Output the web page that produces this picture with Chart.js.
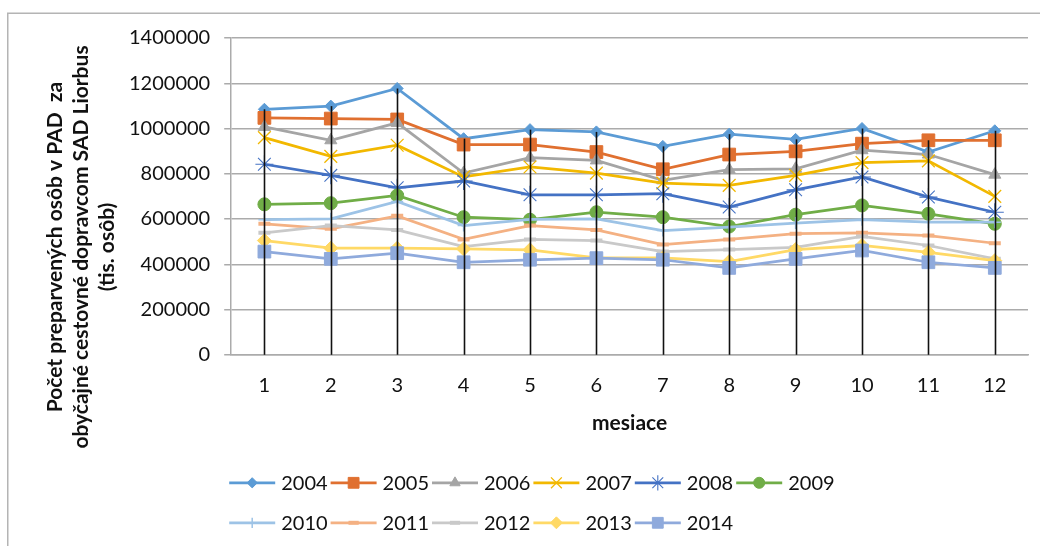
<!DOCTYPE html>
<html>
<head>
<meta charset="utf-8">
<script src="https://cdn.jsdelivr.net/npm/chart.js@4/dist/chart.umd.min.js"></script>
<style>
  html, body { margin: 0; padding: 0; background: #fff; }
  #wrap { position: relative; width: 1040px; height: 546px; }
</style>
</head>
<body>
<div id="wrap"><canvas id="c"></canvas></div>
<script>
// Months on the category axis
const months = ['1', '2', '3', '4', '5', '6', '7', '8', '9', '10', '11', '12'];

// Passengers carried per month, one array per year
const years = ['2004', '2005', '2006', '2007', '2008', '2009', '2010', '2011', '2012', '2013', '2014'];
const y2004 = [1085000, 1099000, 1177000, 955000, 995000, 985000, 921000, 975000, 952000, 1000000, 896000, 990000];
const y2005 = [1047000, 1044000, 1040000, 929000, 929000, 896000, 820000, 885000, 899000, 933000, 948000, 948000];
const y2006 = [1007000, 948000, 1025000, 803000, 871000, 859000, 771000, 818000, 822000, 904000, 885000, 796000];
const y2007 = [960000, 877000, 926000, 786000, 830000, 803000, 759000, 749000, 793000, 849000, 857000, 700000];
const y2008 = [842000, 793000, 738000, 768000, 707000, 707000, 712000, 653000, 729000, 786000, 697000, 630000];
const y2009 = [665000, 670000, 704000, 608000, 597000, 630000, 608000, 567000, 619000, 660000, 623000, 579000];
const y2010 = [597000, 601000, 678000, 571000, 598000, 601000, 549000, 564000, 582000, 597000, 586000, 586000];
const y2011 = [579000, 557000, 614000, 510000, 571000, 552000, 487000, 510000, 535000, 539000, 527000, 493000];
const y2012 = [539000, 571000, 552000, 478000, 510000, 505000, 456000, 465000, 475000, 523000, 483000, 424000];
const y2013 = [505000, 471000, 471000, 468000, 464000, 428000, 428000, 412000, 465000, 483000, 453000, 416000];
const y2014 = [456000, 424000, 449000, 409000, 420000, 427000, 420000, 384000, 424000, 461000, 409000, 384000];
const seriesValues = [y2004, y2005, y2006, y2007, y2008, y2009, y2010, y2011, y2012, y2013, y2014];

// Value axis ticks
const yTicks = [0, 200000, 400000, 600000, 800000, 1000000, 1200000, 1400000];

// Axis titles
const yTitleLines = ['Počet preparvených osôb v PAD  za', 'obyčajné cestovné dopravcom SAD Liorbus', '(tis. osôb)'];
const xTitle = 'mesiace';

// Look of each series: colour, marker shape, marker size, marker stroke
const seriesStyles = [
  { color: '#5B9BD5', marker: 'rectRot',  r: 6,   bw: 1 },
  { color: '#E07030', marker: 'rect',     r: 9,   bw: 1 },
  { color: '#A5A5A5', marker: 'triangle', r: 7,   bw: 1 },
  { color: '#F2B800', marker: 'crossRot', r: 9,   bw: 1.3 },
  { color: '#4472C4', marker: 'star',     r: 9,   bw: 1.1 },
  { color: '#70AD47', marker: 'circle',   r: 6.5, bw: 1 },
  { color: '#9DC3E6', marker: 'cross',    r: 6,   bw: 1.5 },
  { color: '#F4B183', marker: 'line',     r: 6,   bw: 4 },
  { color: '#C9C9C9', marker: 'line',     r: 6,   bw: 4 },
  { color: '#FFD966', marker: 'rectRot',  r: 7,   bw: 1 },
  { color: '#8FAADC', marker: 'rect',     r: 9,   bw: 1 }
];

const FONT = 'Lato, "Open Sans", sans-serif';
const TEXT = '#111';
const GRID = '#ababab';

const datasets = years.map((label, i) => {
  const s = seriesStyles[i];
  return {
    label,
    data: seriesValues[i],
    borderColor: s.color,
    backgroundColor: s.color,
    borderWidth: 2.75,
    tension: 0,
    pointStyle: s.marker,
    pointRadius: s.r,
    pointHoverRadius: s.r,
    pointBackgroundColor: s.color,
    pointBorderColor: s.color,
    pointBorderWidth: s.bw,
    order: years.length - i
  };
});

// Outer frame of the chart object
const framePlugin = {
  id: 'frame',
  beforeDraw(chart) {
    const ctx = chart.ctx;
    ctx.save();
    ctx.fillStyle = '#fff';
    ctx.fillRect(0, 0, chart.width, chart.height);
    ctx.strokeStyle = '#b4b4b4';
    ctx.lineWidth = 1.5;
    ctx.strokeRect(7.75, 13.25, chart.width + 40, chart.height + 40);
    ctx.restore();
  }
};

// Vertical drop lines from the highest value of each month down to the axis
const dropLinesPlugin = {
  id: 'dropLines',
  afterDatasetsDraw(chart) {
    const ctx = chart.ctx;
    const xs = chart.scales.x, ys = chart.scales.y;
    ctx.save();
    ctx.strokeStyle = '#111';
    ctx.lineWidth = 1.6;
    months.forEach((m, i) => {
      let top = -Infinity;
      chart.data.datasets.forEach(ds => { if (ds.data[i] > top) top = ds.data[i]; });
      const x = Math.round(xs.getPixelForValue(i)) + 0.5;
      ctx.beginPath();
      ctx.moveTo(x, ys.getPixelForValue(top));
      ctx.lineTo(x, ys.getPixelForValue(0));
      ctx.stroke();
    });
    ctx.restore();
  }
};

// Rotated three-line title of the value axis
const yTitlePlugin = {
  id: 'yTitle',
  afterDraw(chart) {
    const ctx = chart.ctx;
    const area = chart.chartArea;
    const cy = area.top + 209;
    const firstX = area.left - 176;
    ctx.save();
    ctx.fillStyle = TEXT;
    ctx.font = 'bold 21px ' + FONT;
    ctx.textAlign = 'center';
    ctx.textBaseline = 'middle';
    yTitleLines.forEach((line, k) => {
      ctx.save();
      ctx.translate(firstX + k * 26, cy);
      ctx.rotate(-Math.PI / 2);
      ctx.fillText(line, 0, 0);
      ctx.restore();
    });
    ctx.restore();
  }
};

// Legend: line sample with marker, then the year; six items in the first row
const legendPlugin = {
  id: 'lineLegend',
  afterDraw(chart) {
    const ctx = chart.ctx;
    const area = chart.chartArea;
    const perRow = 6;
    const sample = 46;
    ctx.save();
    ctx.font = '20px ' + FONT;
    ctx.textBaseline = 'middle';
    ctx.textAlign = 'left';
    let x = area.left - 2;
    chart.data.datasets.forEach((ds, i) => {
      const row = Math.floor(i / perRow);
      if (i % perRow === 0) x = area.left - 2;
      const y = area.bottom + 128 + row * 40;
      const s = seriesStyles[i];
      ctx.strokeStyle = s.color;
      ctx.lineWidth = 2.75;
      ctx.beginPath();
      ctx.moveTo(x, y);
      ctx.lineTo(x + sample, y);
      ctx.stroke();
      ctx.fillStyle = s.color;
      ctx.lineWidth = s.bw;
      Chart.helpers.drawPoint(ctx, { pointStyle: s.marker, radius: s.r * 0.85, rotation: 0, borderWidth: s.bw }, x + sample / 2, y);
      ctx.fillStyle = TEXT;
      ctx.fillText(ds.label, x + sample + 6, y + 1);
      x += sample + 6 + ctx.measureText(ds.label).width + 3;
    });
    ctx.restore();
  }
};

new Chart(document.getElementById('c'), {
  type: 'line',
  data: { labels: months, datasets },
  options: {
    responsive: true,
    maintainAspectRatio: false,
    animation: false,
    events: [],
    layout: { padding: { left: 115, top: 38, right: 12, bottom: 110 } },
    plugins: {
      legend: { display: false },
      tooltip: { enabled: false },
      title: { display: false }
    },
    scales: {
      x: {
        offset: true,
        grid: { display: false },
        border: { display: true, color: GRID, width: 1.5 },
        ticks: { color: TEXT, font: { family: FONT, size: 20 }, padding: 11, maxRotation: 0 },
        title: { display: true, text: xTitle, color: TEXT, font: { family: FONT, size: 21, weight: 'bold' }, padding: { top: 2, bottom: 0 } }
      },
      y: {
        min: 0,
        max: 1400000,
        afterBuildTicks(scale) { scale.ticks = yTicks.map(v => ({ value: v })); },
        grid: { color: GRID, lineWidth: 1.5, tickLength: 7, tickColor: GRID, drawTicks: true },
        border: { display: true, color: GRID, width: 1.5 },
        ticks: { color: TEXT, font: { family: FONT, size: 20 }, padding: 14, callback: v => String(v) }
      }
    }
  },
  plugins: [framePlugin, dropLinesPlugin, yTitlePlugin, legendPlugin]
});
</script>
</body>
</html>
